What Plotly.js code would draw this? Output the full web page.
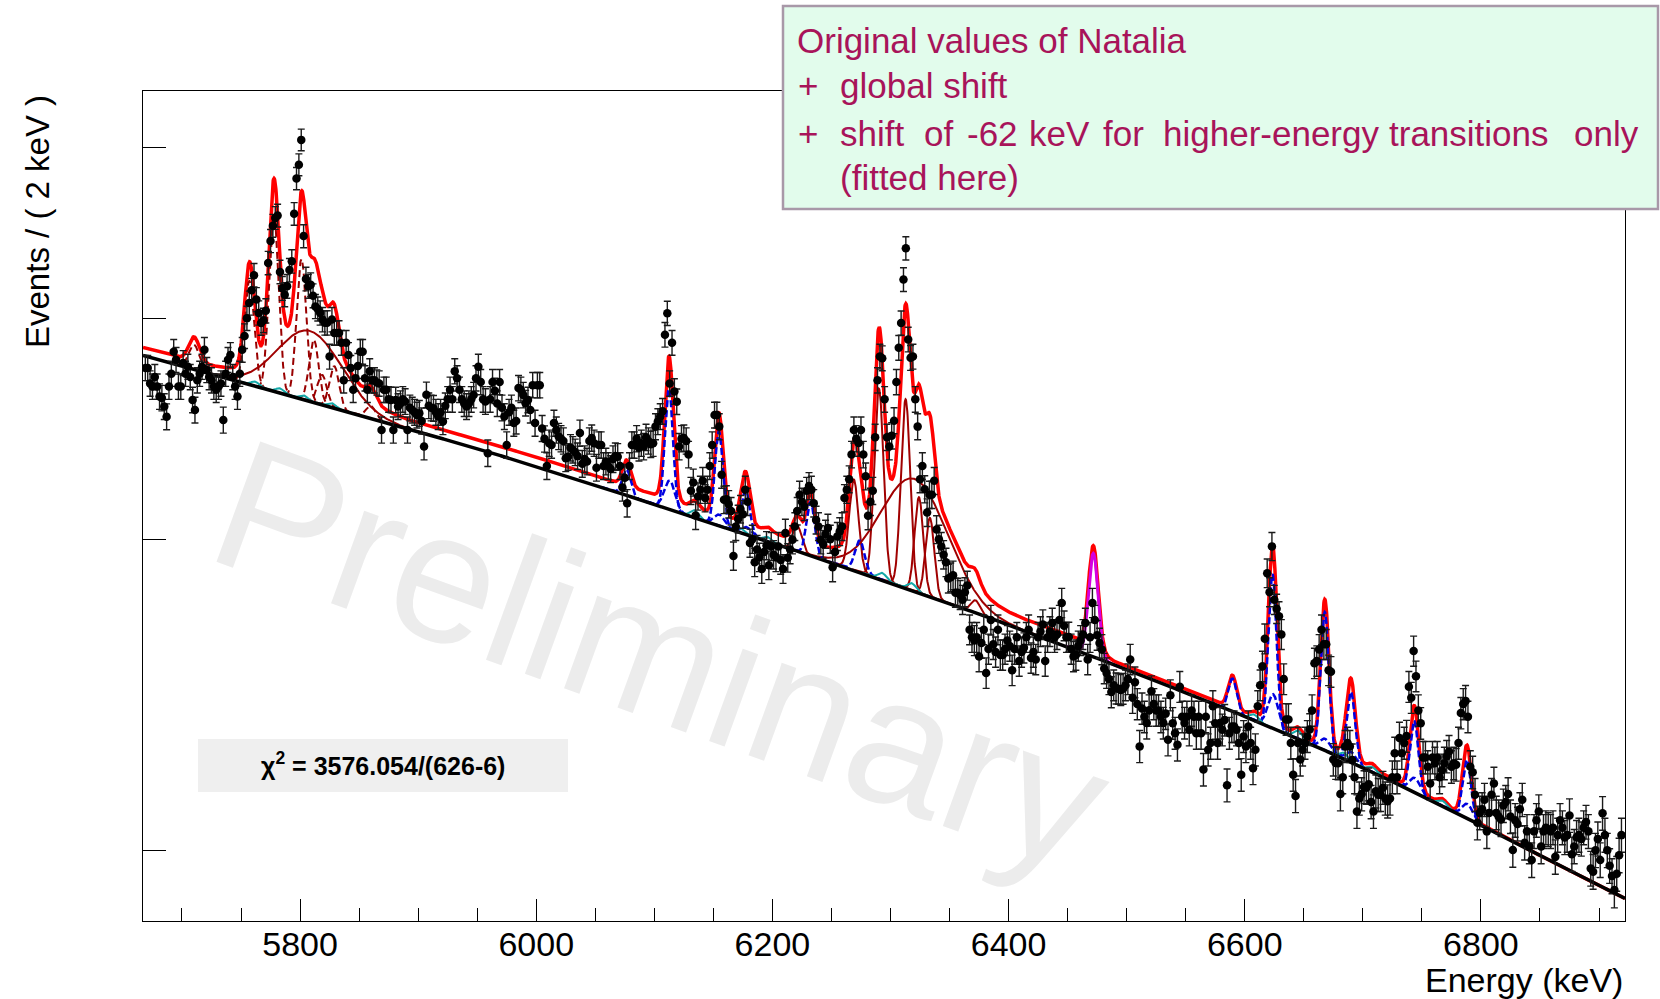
<!DOCTYPE html>
<html><head><meta charset="utf-8">
<script src="https://cdn.plot.ly/plotly-3.0.1.min.js"></script>
<style>html,body{margin:0;padding:0;background:#fff;} #chart{width:1660px;height:999px;}</style>
</head><body><div id="chart"></div>
<script>
// ---- binning of the histogram (2 keV bins) ----
const binLow = 5668;
const binWidth = 2;
// ---- events per bin (626 bins) ----
const counts = [
3750,3750,3675,3660,3706,3660,3613,3606,3566,3519,
3660,3722,3830,3790,3660,3660,3774,3722,3756,3706,
3597,3550,3690,3722,3756,3840,3740,3706,3690,3660,
3645,3660,3675,3504,3722,3790,3814,3706,3660,3613,
3722,3840,3909,4001,4081,4150,4232,4100,4029,3976,
3990,4040,4300,4425,4514,4560,4574,4250,4160,4126,
4171,4260,4309,4584,4800,4887,5048,4453,4211,4171,
4180,4120,4063,4050,4029,3994,3977,3977,3806,3994,
3925,3925,3925,3875,3690,3875,3814,3750,3645,3700,
3760,3830,3830,3700,3645,3734,3690,3690,3680,3675,
3459,3645,3645,3600,3597,3459,3597,3566,3580,3600,
3590,3459,3560,3550,3540,3527,3535,3500,3385,3621,
3570,3560,3558,3540,3520,3540,3497,3570,3600,3645,
3600,3734,3700,3645,3600,3580,3566,3580,3600,3620,
3700,3756,3682,3600,3590,3356,3600,3682,3640,3580,
3682,3560,3520,3392,3540,3560,3490,3500,3653,3645,
3620,3582,3597,3550,3667,3490,3667,3667,3466,3419,
3300,3400,3392,3490,3459,3430,3420,3410,3334,3340,
3380,3371,3360,3343,3445,3310,3330,3320,3410,3423,
3400,3293,3392,3392,3300,3320,3300,3287,3330,3343,
3340,3300,3209,3250,3144,3300,3392,3392,3420,3380,
3400,3385,3426,3410,3395,3400,3474,3497,3520,3544,
3916,4027,3675,3875,3637,3589,3385,3420,3423,3410,
3350,3195,3230,3094,3172,3200,3237,3165,3200,3300,
3392,3527,3527,3474,3263,3158,3160,3140,3112,2935,
3050,3080,3120,3099,3200,3150,2985,3000,2911,2960,
2930,2886,2950,2975,2900,2972,2940,2930,2972,2920,
2886,3024,2928,2960,2998,3050,3112,3179,3150,3130,
3195,3215,3200,3144,3076,3050,2998,2980,3020,3044,
3000,2892,2950,3011,3030,3050,3165,3200,3244,3350,
3459,3420,3401,3459,3350,3256,3093,3150,3195,3426,
3690,3806,3798,3600,3426,3385,3433,3501,3682,3850,
3976,4208,4383,3892,3800,3806,3600,3474,3244,3300,
3202,3106,3179,3179,3237,3038,3000,2972,2940,2911,
2850,2855,2862,2798,2798,2790,2772,2800,2824,2666,
2640,2629,2640,2575,2620,2666,2520,2600,2700,2616,
2590,2666,2580,2580,2600,2629,2610,2529,2600,2640,
2560,2590,2604,2640,2666,2570,2590,2565,2640,2660,
2684,2560,2640,2660,2690,2640,2650,2700,2761,2680,
2640,2641,2600,2575,2580,2610,2629,2650,2690,2565,
2640,2761,2700,2647,2620,2598,2535,2520,2500,2458,
2480,2470,2469,2465,2469,2480,2500,2565,2440,2490,
2420,2290,2406,2380,2361,2400,2461,2420,2400,2400,
2380,2361,2390,2310,2448,2360,2330,2295,2475,2380,
2361,2380,2340,2400,2380,2330,2380,2330,2222,2380,
2280,2300,2413,2360,2300,2361,2340,2370,2177,2330,
2350,2350,2340,2300,2207,2320,2290,2350,2300,2226,
2280,2413,2480,2542,2635,2870,2800,2972,2772,2740,
2713,2650,2500,2372,2372,2300,2207,2147,2300,2251,
2280,2300,2320,2341,2400,2552,2560,2598,2666,2616,
2616,2529,2524,2251,2241,2240,2152,2200,2290,2300,
2290,2250,2200,2104,2140,2152,2172,2170,2180,2130,
2104,2160,2150,2150,2170,2140,2132,2140,2200,2270,
2200,2315,2270,2300,2321,2475,2440,2593,2509,2400,
2360,2257,2257,2230,2182,2257,2240,2257,2200,2220,
2240,2260,2275,2230,2240,2236,2300,2392,2420,2430,
2380,2230,2214,2150,2073,2100,2110,2136,2050,2100,
2150,2182,2100,2090,2082,2120,2130,2152,2090,2001,
2080,2070,2110,2136,2020,2050,2010,1975,2050,2080,
2104,2010,2050,2060,2055,2050,2060,1983,2040,2080,
2060,2034,2040,2093,1990,2010,2034,2040,2030,2060,
2075,2050,1953,1945,2000,2030,1975,2099,2040,2000,
1960,1934,1899,1940,1987,2040
];

// ---- fitted background (black), read at nodes ----
const bgEnergy = [5665, 5834, 5995, 6156, 6289, 6478, 6682, 6921];
const bgLevel  = [3815, 3551, 3306, 3051, 2852, 2564, 2256, 1880];
// ---- extra continuum of the total fit above the background ----
const excessEnergy = [5665, 6460, 6490, 6700, 6850, 6921];
const excessLevel  = [40, 40, 12, 10, 0, 0];

// ---- fit components (centre keV, amplitude counts, sigma keV) ----
const dashedRedCenter = [5710.3, 5757.1, 5777.8, 5801.2, 5811.7, 5818.7, 5829.0, 5860.0];
const dashedRedAmp    = [122, 530, 930, 720, 306, 142, 200, 58];
const dashedRedSigma  = [4.5, 4.0, 4.0, 4.0, 4.0, 4.0, 4.0, 4.0];

const broadCenter = [5808, 6320];
const broadAmp    = [345, 441];
const broadSigma  = [27, 27.5];

const solidRedCenter = [6221, 6269, 6290.2, 6312.8, 6324.1, 6333.4, 6372];
const solidRedAmp    = [100, 360, 800, 784, 370, 300, 45];
const solidRedSigma  = [3.8, 3.8, 3.8, 3.8, 3.6, 3.6, 3.8];

const blueCenter = [6076.5, 6112.4, 6113.0, 6154.7, 6155.0, 6177.3, 6178.0, 6232.3, 6274.0,
                    6589.6, 6623.5, 6624.0, 6667.8, 6668.0, 6689.9, 6690.0, 6743.5, 6744.0, 6788.1, 6788.5];
const blueAmp    = [110, 530, 120, 400, 45, 180, 30, 212, 120,
                    105, 520, 106, 450, 35, 215, 30, 210, 41, 165, 40];
const blueSigma  = [3.5, 3.3, 4.5, 3.3, 4.5, 3.5, 4.5, 3.5, 4.0,
                    3.5, 3.3, 4.5, 3.3, 4.5, 3.5, 4.5, 3.5, 4.5, 3.5, 4.5];

const magentaCenter = [6471.8];
const magentaAmp    = [372];
const magentaSigma  = [4.0];

const cyanCenter = [5762, 5783, 5803, 5827, 6134, 6173, 6196, 6293, 6318, 6608, 6645, 6684, 6708, 6767.5];
const cyanAmp    = [22, 22, 20, 20, 30, 18, 18, 25, 25, 18, 25, 18, 15, 15];
const cyanSigma  = [3.5, 3.5, 3.5, 3.5, 3.5, 3.5, 3.5, 3.5, 3.5, 3.5, 3.5, 3.5, 3.5, 3.5];

const xTickVals = [5800, 6000, 6200, 6400, 6600, 6800];
const yTickVals = [2000, 3000, 4000, 5000];

// ---------------- helpers ----------------
function monotone(xn, yn){
  const n = xn.length, h = [], d = [], m = new Array(n);
  for (let i = 0; i < n-1; i++){ h[i] = xn[i+1]-xn[i]; d[i] = (yn[i+1]-yn[i])/h[i]; }
  m[0] = d[0]; m[n-1] = d[n-2];
  for (let i = 1; i < n-1; i++) m[i] = (d[i-1]*d[i] <= 0) ? 0 : (d[i-1]+d[i])/2;
  return function(x){
    let i = 0;
    if (x >= xn[n-1]) i = n-2; else if (x > xn[0]) { while (x > xn[i+1]) i++; }
    const t = (x-xn[i])/h[i], t2 = t*t, t3 = t2*t;
    return (2*t3-3*t2+1)*yn[i] + (t3-2*t2+t)*h[i]*m[i] + (-2*t3+3*t2)*yn[i+1] + (t3-t2)*h[i]*m[i+1];
  };
}
const bgLog = monotone(bgEnergy, bgLevel.map(Math.log10));
const bgAt = x => Math.pow(10, bgLog(x));
function linear(xn, yn, x){
  if (x <= xn[0]) return yn[0];
  for (let i = 0; i < xn.length-1; i++) if (x <= xn[i+1]) return yn[i] + (yn[i+1]-yn[i])*(x-xn[i])/(xn[i+1]-xn[i]);
  return yn[yn.length-1];
}
const gauss = (x, c, s) => { const u = (x-c)/s; return Math.exp(-0.5*u*u); };

const xMin = 5667, xMax = 6922, step = 0.25;
const grid = [];
for (let x = xMin; x <= xMax + 1e-9; x += step) grid.push(+x.toFixed(3));

function group(c, a, s){ return c.map((v, i) => ({c: v, a: a[i], s: s[i]})); }
const gDashed = group(dashedRedCenter, dashedRedAmp, dashedRedSigma);
const gBroad  = group(broadCenter, broadAmp, broadSigma);
const gSolid  = group(solidRedCenter, solidRedAmp, solidRedSigma);
const gBlue   = group(blueCenter, blueAmp, blueSigma);
const gMag    = group(magentaCenter, magentaAmp, magentaSigma);
const gCyan   = group(cyanCenter, cyanAmp, cyanSigma);
const allComp = [].concat(gDashed, gBroad, gSolid, gBlue, gMag, gCyan);

function segments(list, nsig){
  const xs = [], ys = [];
  list.forEach(p => {
    const lo = Math.max(xMin, p.c - nsig*p.s), hi = Math.min(xMax, p.c + nsig*p.s);
    for (let x = lo; x <= hi; x += step){ xs.push(x); ys.push(bgAt(x) + p.a*gauss(x, p.c, p.s)); }
    xs.push(null); ys.push(null);
  });
  return {x: xs, y: ys};
}

const totalY = grid.map(x => {
  let v = bgAt(x) + linear(excessEnergy, excessLevel, x);
  allComp.forEach(p => { v += p.a*gauss(x, p.c, p.s); });
  return v;
});
const bgY = grid.map(bgAt);

const segDashed = segments(gDashed, 6);
const segSolid = (() => { const a = segments(gBroad, 4.5), b = segments(gSolid, 6);
  return {x: a.x.concat(b.x), y: a.y.concat(b.y)}; })();
const segBlue = segments(gBlue, 6);
const segCyan = segments(gCyan, 5);
const segMag = segments(gMag, 6);

const binCenters = counts.map((v, i) => binLow + binWidth*(i + 0.5));
const errs = counts.map(v => Math.sqrt(v));

const traces = [
  {x: grid, y: totalY, mode: 'lines', line: {color: '#ff0000', width: 3.5}, hoverinfo: 'skip'},
  {x: segDashed.x, y: segDashed.y, mode: 'lines', connectgaps: false, line: {color: '#990000', width: 2, dash: '7px,4px'}},
  {x: segSolid.x, y: segSolid.y, mode: 'lines', connectgaps: false, line: {color: '#a00000', width: 2}},
  {x: segBlue.x, y: segBlue.y, mode: 'lines', connectgaps: false, line: {color: '#0000e0', width: 2.5, dash: '7px,3px'}},
  {x: segCyan.x, y: segCyan.y, mode: 'lines', connectgaps: false, line: {color: '#14a8a8', width: 2}},
  {x: segMag.x, y: segMag.y, mode: 'lines', connectgaps: false, line: {color: '#d400e0', width: 3}},
  {x: grid, y: bgY, mode: 'lines', line: {color: '#000000', width: 3.5}},
  {x: binCenters, y: counts, mode: 'markers', marker: {color: '#000', size: 8.5, symbol: 'circle'},
   error_y: {type: 'data', array: errs, visible: true, color: '#1a1a1a', thickness: 1.4, width: 3.5}}
];

const FONT = 'Liberation Sans, Arial, Helvetica, sans-serif';
const txtCol = '#a8145a';
const ann = (text, x, y, opts) => Object.assign({text: text, x: x, y: y, xref: 'paper', yref: 'paper',
  showarrow: false, xanchor: 'left', yanchor: 'middle', font: {family: FONT, size: 35, color: txtCol}}, opts || {});
const px = X => (X - 143)/1482;
const py = Y => (921 - Y)/830;

const annotations = [
  ann('Original values of Natalia', px(795), py(41)),
  ann('+', px(796), py(86)),
  ann('global shift', px(838), py(86)),
  ann('+', px(796), py(133)),
  ann('shift', px(838), py(133)),
  ann('of', px(922), py(133)),
  ann('-62', px(965), py(133)),
  ann('keV', px(1027), py(133)),
  ann('for', px(1101), py(133)),
  ann('higher-energy', px(1161), py(133)),
  ann('transitions', px(1387), py(133)),
  ann('only', px(1572), py(133)),
  ann('(fitted here)', px(838), py(177)),
  {text: '<b>χ<sup>2</sup> = 3576.054/(626-6)</b>', x: px(383), y: py(764), xref: 'paper', yref: 'paper',
   showarrow: false, xanchor: 'center', yanchor: 'middle', font: {family: FONT, size: 25, color: '#000'}},
  {text: 'Energy (keV)', x: 1, y: py(980), xref: 'paper', yref: 'paper', showarrow: false,
   xanchor: 'right', yanchor: 'middle', font: {family: FONT, size: 34, color: '#000'}},
  {text: 'Events / ( 2 keV )', x: px(37), y: py(222), xref: 'paper', yref: 'paper', showarrow: false,
   xanchor: 'center', yanchor: 'middle', textangle: -90, font: {family: FONT, size: 33, color: '#000'}}
];

const shapes = [
  {type: 'rect', xref: 'paper', yref: 'paper', x0: 0.054, x1: 0.654, y0: 0.041, y1: 0.641, layer: 'below',
   line: {width: 0}, fillcolor: 'rgba(0,0,0,0)',
   label: {text: 'Preliminary', textangle: 20, textposition: 'middle center',
           font: {family: FONT, size: 186, color: '#ececec'}}},
  {type: 'rect', xref: 'paper', yref: 'paper', x0: px(198), x1: px(568), y0: py(792), y1: py(739),
   layer: 'below', line: {width: 0}, fillcolor: '#efefef'},
  {type: 'rect', xref: 'paper', yref: 'paper', x0: px(783), x1: px(1658), y0: py(209), y1: py(6),
   layer: 'above', line: {width: 2.5, color: '#a898a8'}, fillcolor: '#e2fcec'}
];

const layout = {
  width: 1660, height: 999,
  margin: {l: 143, r: 35, t: 91, b: 78},
  paper_bgcolor: '#fff', plot_bgcolor: '#fff',
  showlegend: false,
  font: {family: FONT, color: '#000'},
  xaxis: {range: [xMin, xMax], tickmode: 'array', tickvals: xTickVals, ticktext: xTickVals.map(String),
    ticks: 'inside', ticklen: 22, tickwidth: 1, tickcolor: '#000',
    minor: {tickmode: 'linear', tick0: 5700, dtick: 50, ticks: 'inside', ticklen: 13, tickwidth: 1, tickcolor: '#000', showgrid: false},
    showline: true, linecolor: '#000', linewidth: 1.2, mirror: true,
    showgrid: false, zeroline: false, tickfont: {family: FONT, size: 34, color: '#000'}, ticklabelstandoff: -7},
  yaxis: {type: 'log', range: [Math.log10(1824), Math.log10(5380)], tickmode: 'array', tickvals: yTickVals,
    showticklabels: false, ticks: 'inside', ticklen: 23, tickwidth: 1, tickcolor: '#000',
    showline: true, linecolor: '#000', linewidth: 1.2, mirror: true, showgrid: false, zeroline: false},
  annotations: annotations,
  shapes: shapes
};

Plotly.newPlot('chart', traces, layout, {displayModeBar: false, staticPlot: true});
</script>
</body></html>
